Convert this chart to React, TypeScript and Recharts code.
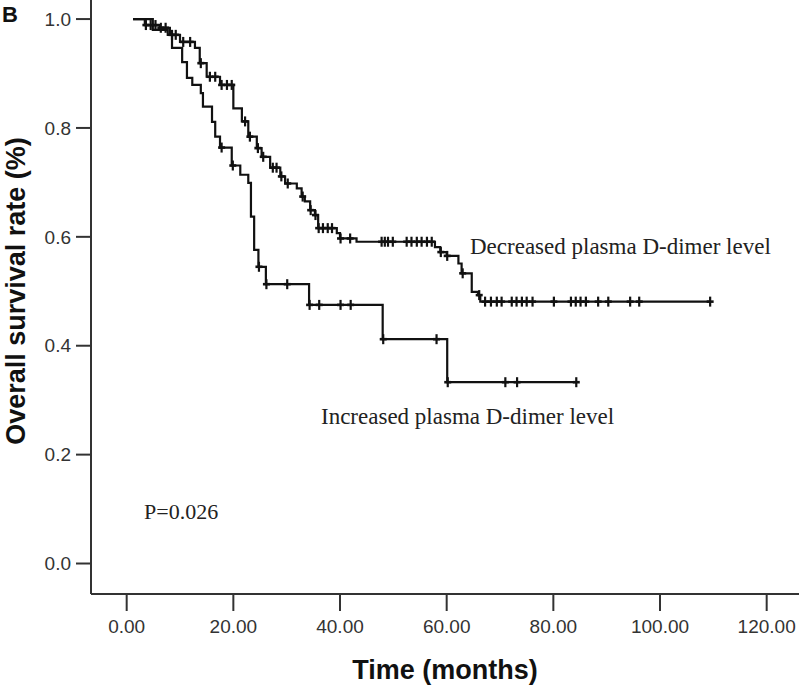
import { ComposedChart, Line, Scatter, XAxis, YAxis } from "recharts";

const X_TICKS = [0, 20, 40, 60, 80, 100, 120];
const Y_TICKS = [0, 0.2, 0.4, 0.6, 0.8, 1.0];

// Kaplan-Meier steps, [months, survival]; last pair is the end of follow-up
const decreasedSteps: [number, number][] = [
  [1.2, 1.0], [3.4, 0.989], [6.2, 0.984], [8.1, 0.971], [10.0, 0.958], [12.8, 0.947],
  [13.7, 0.919], [15.0, 0.894], [17.5, 0.879], [20.0, 0.836], [21.6, 0.812], [22.8, 0.784],
  [24.4, 0.763], [25.3, 0.747], [26.9, 0.727], [28.8, 0.711], [29.7, 0.698], [31.9, 0.689],
  [32.8, 0.674], [33.4, 0.665], [34.4, 0.649], [35.3, 0.64], [35.9, 0.616], [39.4, 0.607],
  [40.0, 0.597], [43.1, 0.591], [57.8, 0.581], [58.8, 0.572], [60.0, 0.565], [62.2, 0.551],
  [62.8, 0.533], [64.7, 0.499], [65.9, 0.493], [66.3, 0.481], [109.4, 0.481],
];
const decreasedCensored = [
  3.6, 4.5, 5.4, 6.4, 7.3, 8.5, 9.2, 10.6, 11.9, 13.9, 15.6, 16.6, 17.8, 18.8, 19.7,
  22.2, 23.1, 24.6, 25.6, 27.4, 28.1, 29.0, 30.2, 33.0, 34.5, 35.4, 36.0, 36.8, 37.7, 38.5,
  40.1, 41.9, 47.8, 48.4, 49.0, 49.9, 52.5, 53.4, 54.4, 55.3, 56.3, 57.2, 58.9, 60.1, 63.0,
  66.1, 67.2, 68.3, 69.4, 70.3, 72.2, 73.1, 74.1, 75.0, 76.1, 80.1, 83.3, 84.2, 85.1, 86.1,
  88.4, 90.3, 94.4, 96.1, 109.4,
];

const increasedSteps: [number, number][] = [
  [1.2, 1.0], [4.9, 0.98], [7.7, 0.971], [8.5, 0.947], [10.4, 0.921], [11.3, 0.892],
  [12.3, 0.879], [13.9, 0.864], [14.3, 0.839], [16.0, 0.811], [16.6, 0.784], [17.5, 0.764],
  [19.7, 0.731], [21.3, 0.714], [22.8, 0.699], [23.3, 0.637], [23.9, 0.576], [24.7, 0.545],
  [26.1, 0.513], [34.2, 0.475], [48.0, 0.412], [60.1, 0.333], [84.3, 0.333],
];
const increasedCensored = [
  17.8, 19.9, 24.8, 26.2, 30.1, 34.3, 36.1, 40.1, 42.0, 48.1, 58.1, 60.2, 71.0, 73.2, 84.3,
];

const toPoints = (steps: [number, number][]) => steps.map(([t, s]) => ({ t, s }));

// censor marks sit on the curve at their time
const censorPoints = (steps: [number, number][], times: number[]) =>
  times.map((t) => {
    let s = steps[0][1];
    for (const [st, sv] of steps) if (st <= t) s = sv;
    return { t, s };
  });

const INK = "#111";
const AXIS = "#333";
const sans = "'Liberation Sans', Arial, sans-serif";
const serif = "'Liberation Serif', 'Times New Roman', serif";
const tickStyle = { fontSize: 19, fill: "#333", fontFamily: sans };

function Plus(props: any) {
  const { cx, cy } = props;
  if (cx == null || cy == null) return null;
  return (
    <g>
      <line x1={cx} x2={cx} y1={cy - 5} y2={cy + 5} stroke={INK} strokeWidth={2.2} />
      <line x1={cx - 3.5} x2={cx + 3.5} y1={cy} y2={cy} stroke={INK} strokeWidth={2.6} />
    </g>
  );
}

export default function App() {
  return (
    <div style={{ position: "absolute", left: 0, top: 0, width: 799, height: 685, background: "#fff" }}>
      <ComposedChart width={799} height={685} margin={{ top: 0, right: 0, left: 0, bottom: 0 }}>
        <XAxis
          type="number"
          dataKey="t"
          domain={[-6.69, 126.06]}
          allowDataOverflow
          ticks={X_TICKS}
          tickFormatter={(v) => v.toFixed(2)}
          height={91}
          tickSize={17}
          tickMargin={9}
          tick={tickStyle}
          axisLine={{ stroke: AXIS, strokeWidth: 2 }}
          tickLine={{ stroke: AXIS, strokeWidth: 2 }}
          label={{
            value: "Time (months)",
            position: "insideBottom",
            offset: 6,
            style: { fontSize: 27, fontWeight: "bold", fill: "#111", fontFamily: sans },
          }}
        />
        <YAxis
          type="number"
          dataKey="s"
          domain={[-0.056, 1.035]}
          allowDataOverflow
          ticks={Y_TICKS}
          tickFormatter={(v) => v.toFixed(1)}
          width={91}
          tickSize={15}
          tickMargin={5}
          tick={tickStyle}
          axisLine={{ stroke: AXIS, strokeWidth: 2 }}
          tickLine={{ stroke: AXIS, strokeWidth: 2 }}
        />
        <Line
          data={toPoints(increasedSteps)}
          dataKey="s"
          type="stepAfter"
          stroke={INK}
          strokeWidth={2.2}
          dot={false}
          activeDot={false}
          isAnimationActive={false}
        />
        <Line
          data={toPoints(decreasedSteps)}
          dataKey="s"
          type="stepAfter"
          stroke={INK}
          strokeWidth={2.2}
          dot={false}
          activeDot={false}
          isAnimationActive={false}
        />
        <Scatter data={censorPoints(increasedSteps, increasedCensored)} dataKey="s" shape={<Plus />} isAnimationActive={false} />
        <Scatter data={censorPoints(decreasedSteps, decreasedCensored)} dataKey="s" shape={<Plus />} isAnimationActive={false} />
      </ComposedChart>
      <svg width={799} height={685} style={{ position: "absolute", left: 0, top: 0, pointerEvents: "none" }}>
        <text x={2} y={22} fontSize={22} fontWeight="bold" fill="#111" fontFamily={sans}>
          B
        </text>
        <text
          transform="translate(25,291) rotate(-90)"
          textAnchor="middle"
          fontSize={27}
          fontWeight="bold"
          fill="#111"
          fontFamily={sans}
        >
          Overall survival rate (%)
        </text>
        <text x={470} y={254} fontSize={23} fill="#222" fontFamily={serif}>
          Decreased plasma D-dimer level
        </text>
        <text x={321} y={424} fontSize={23} fill="#222" fontFamily={serif}>
          Increased plasma D-dimer level
        </text>
        <text x={144} y={519} fontSize={22} fill="#222" fontFamily={serif}>
          P=0.026
        </text>
      </svg>
    </div>
  );
}
